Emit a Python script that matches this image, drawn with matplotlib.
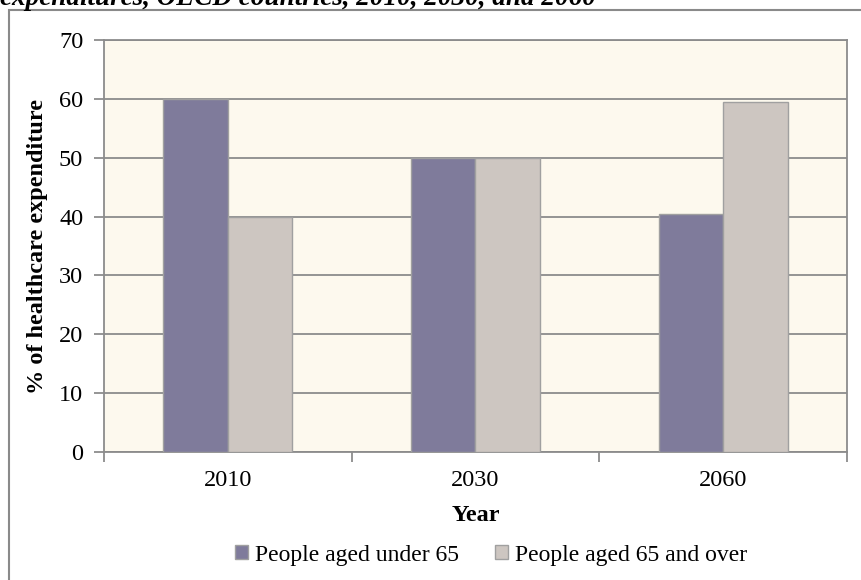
import numpy as np
import matplotlib.pyplot as plt
from matplotlib.patches import Rectangle

# Anteil der Gesundheitsausgaben nach Altersgruppe
years = ["2010", "2030", "2060"]
under_65 = [60, 50, 40.5]
over_65 = [40, 50, 59.5]
series_names = ["People aged under 65", "People aged 65 and over"]

plt.rcParams['font.family'] = ['Liberation Serif', 'DejaVu Serif']
fs = 17.5

W, H = 861, 580
fig = plt.figure(figsize=(W / 100, H / 100), dpi=100)

# Rahmen um das Diagramm (rechts und unten abgeschnitten)
fig.patches.append(Rectangle((9 / W, -0.1), 1.2, 1 - 10 / H + 0.1, transform=fig.transFigure,
                             fill=False, edgecolor='#8a8a8a', lw=1.5))

# abgeschnittener Titel oben
fig.text(0.0, 1 - 5 / H, "expenditures, OECD countries, 2010, 2030, and 2060",
         fontsize=19.5, fontweight='bold', fontstyle='italic', va='baseline', ha='left')

ax = fig.add_axes([104 / W, (H - 452) / H, 743 / W, 412 / H])
ax.set_facecolor('#fdf9ee')

x = np.arange(len(years))
w = 0.26
ax.bar(x - w / 2, under_65, w, color='#7f7b9b', edgecolor='#a0a0a0', lw=1.0,
       label=series_names[0], zorder=3)
ax.bar(x + w / 2, over_65, w, color='#cdc6c1', edgecolor='#a0a0a0', lw=1.0,
       label=series_names[1], zorder=3)

ax.set_xlim(-0.5, 2.5)
ax.set_ylim(0, 70)
ax.set_yticks(np.arange(0, 71, 10))
ax.yaxis.grid(True, color='#8c8c8c', lw=1.3, zorder=1)

# Teilstriche an den Kategoriegrenzen, Beschriftung in der Mitte
ax.set_xticks([-0.5, 0.5, 1.5, 2.5])
ax.set_xticklabels([])
ax.set_xticks(x, minor=True)
ax.set_xticklabels(years, minor=True)
ax.tick_params(axis='x', which='major', length=7, color='#8c8c8c', width=1.3)
ax.tick_params(axis='x', which='minor', length=0, pad=13, labelsize=fs)
ax.tick_params(axis='y', length=7, color='#8c8c8c', width=1.3, labelsize=fs, pad=8)

for s in ax.spines.values():
    s.set_color('#8c8c8c')
    s.set_linewidth(1.3)

ax.set_xlabel("Year", fontsize=fs, fontweight='bold', labelpad=10)
ax.set_ylabel("% of healthcare expenditure", fontsize=fs, fontweight='bold', labelpad=8)

fig.legend(loc='center', bbox_to_anchor=(491 / W, 1 - 555 / H), ncol=2, frameon=False,
           fontsize=17, handlelength=0.55, handleheight=0.55, handletextpad=0.3,
           columnspacing=1.5)

fig.savefig("out.png", dpi=100)
